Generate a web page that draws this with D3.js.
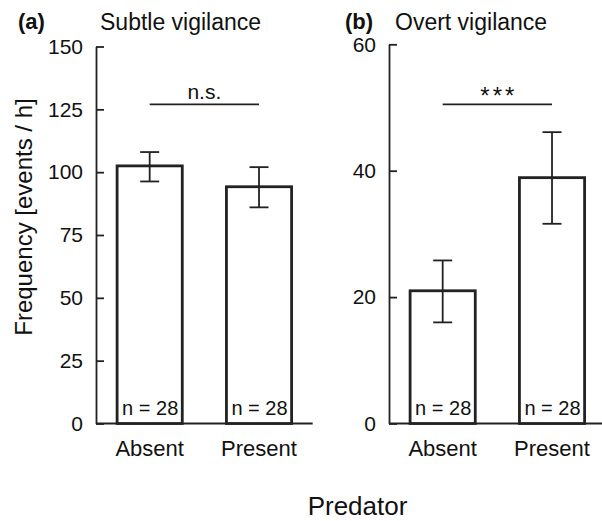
<!DOCTYPE html>
<html>
<head>
<meta charset="utf-8">
<script src="https://cdn.jsdelivr.net/npm/d3@7"></script>
<style>
  body { margin: 0; background: #fff; }
  svg text { font-family: "Liberation Sans", Arial, Helvetica, sans-serif; fill: #111; }
</style>
</head>
<body>
<div id="chart"></div>
<script>
// data
const categories = ["Absent", "Present"];
const sampleSizes = ["n = 28", "n = 28"];

const subtleMeans = [102.5, 94.2];
const subtleUpper = [108, 102];
const subtleLower = [96.3, 86];
const subtleTicks = [0, 25, 50, 75, 100, 125, 150];

const overtMeans = [21, 38.9];
const overtUpper = [25.8, 46.1];
const overtLower = [16, 31.6];
const overtTicks = [0, 20, 40, 60];

const panelLetters = ["(a)", "(b)"];
const panelTitles = ["Subtle vigilance", "Overt vigilance"];
const sigLabels = ["n.s.", "***"];
const sigLevels = [127, 50.5];
const yMax = [150, 60];

const width = 602, height = 521;
const ink = "#222";

const svg = d3.select("#chart").append("svg")
    .attr("width", width)
    .attr("height", height);

var panels = [
    { left: 96, top: 46.5, means: subtleMeans, upper: subtleUpper, lower: subtleLower, ticks: subtleTicks },
    { left: 389, top: 44.3, means: overtMeans, upper: overtUpper, lower: overtLower, ticks: overtTicks }
];
const baseY = 423.5;

panels.forEach(function (p, i) {
    var x = d3.scaleBand()
        .domain(categories)
        .range([p.left, p.left + 216.7])
        .paddingInner(0.404)
        .paddingOuter(0.193);
    var y = d3.scaleLinear().domain([0, yMax[i]]).range([baseY, p.top]);

    var g = svg.append("g");

    // y axis, ticks pointing inward
    var yAxis = d3.axisLeft(y)
        .tickValues(p.ticks)
        .tickSizeInner(-8)
        .tickSizeOuter(0)
        .tickPadding(13)
        .tickFormat(d3.format("d"));
    var ya = g.append("g")
        .attr("transform", "translate(" + p.left + ",0)")
        .call(yAxis);
    ya.select(".domain").attr("stroke", ink).attr("stroke-width", 1.8);
    ya.selectAll(".tick line").attr("stroke", ink).attr("stroke-width", 1.8);
    ya.selectAll(".tick text")
        .attr("fill", "#111")
        .style("font-size", "21px")
        .style("font-family", "Liberation Sans, Arial, sans-serif");

    // baseline
    g.append("line")
        .attr("x1", p.left).attr("x2", x.range()[1])
        .attr("y1", y(0)).attr("y2", y(0))
        .attr("stroke", ink).attr("stroke-width", 1.8);

    // bars
    g.selectAll("rect.bar")
        .data(p.means)
        .enter().append("rect")
        .attr("class", "bar")
        .attr("x", function (d, j) { return x(categories[j]); })
        .attr("y", function (d) { return y(d); })
        .attr("width", x.bandwidth())
        .attr("height", function (d) { return y(0) - y(d); })
        .attr("fill", "#fff")
        .attr("stroke", ink)
        .attr("stroke-width", 2.8);

    // error bars
    var capW = 9.5;
    categories.forEach(function (c, j) {
        var cx = x(c) + x.bandwidth() / 2;
        g.append("line")
            .attr("x1", cx).attr("x2", cx)
            .attr("y1", y(p.upper[j])).attr("y2", y(p.lower[j]))
            .attr("stroke", ink).attr("stroke-width", 1.8);
        [p.upper[j], p.lower[j]].forEach(function (v) {
            g.append("line")
                .attr("x1", cx - capW).attr("x2", cx + capW)
                .attr("y1", y(v)).attr("y2", y(v))
                .attr("stroke", ink).attr("stroke-width", 1.8);
        });

        // sample size inside bar
        g.append("text")
            .attr("x", x(c) + 5)
            .attr("y", y(0) - 9)
            .style("font-size", "20px")
            .text(sampleSizes[j]);

        // category label
        g.append("text")
            .attr("x", cx)
            .attr("y", 456)
            .attr("text-anchor", "middle")
            .style("font-size", "22px")
            .text(c);
    });

    // significance line
    var c0 = x(categories[0]) + x.bandwidth() / 2;
    var c1 = x(categories[1]) + x.bandwidth() / 2;
    g.append("line")
        .attr("x1", c0).attr("x2", c1)
        .attr("y1", y(sigLevels[i])).attr("y2", y(sigLevels[i]))
        .attr("stroke", ink).attr("stroke-width", 1.8);
    g.append("text")
        .attr("x", (c0 + c1) / 2 + (i == 0 ? 0 : 1.5))
        .attr("y", y(sigLevels[i]) - (i == 0 ? 5 : 0))
        .attr("text-anchor", "middle")
        .style("font-size", i == 0 ? "21px" : "24px")
        .style("letter-spacing", i == 0 ? "0px" : "3px")
        .text(sigLabels[i]);

    // titles
    g.append("text")
        .attr("x", p.left - (i == 0 ? 78 : 44))
        .attr("y", 29)
        .style("font-size", "22px")
        .style("font-weight", "bold")
        .text(panelLetters[i]);
    g.append("text")
        .attr("x", p.left + (i == 0 ? 4 : 6))
        .attr("y", 30)
        .style("font-size", "23px")
        .text(panelTitles[i]);
});

// axis titles
svg.append("text")
    .attr("transform", "translate(32,217) rotate(-90)")
    .attr("text-anchor", "middle")
    .style("font-size", "24px")
    .text("Frequency [events / h]");

svg.append("text")
    .attr("x", 357.5)
    .attr("y", 515)
    .attr("text-anchor", "middle")
    .style("font-size", "26px")
    .text("Predator");
</script>
</body>
</html>
